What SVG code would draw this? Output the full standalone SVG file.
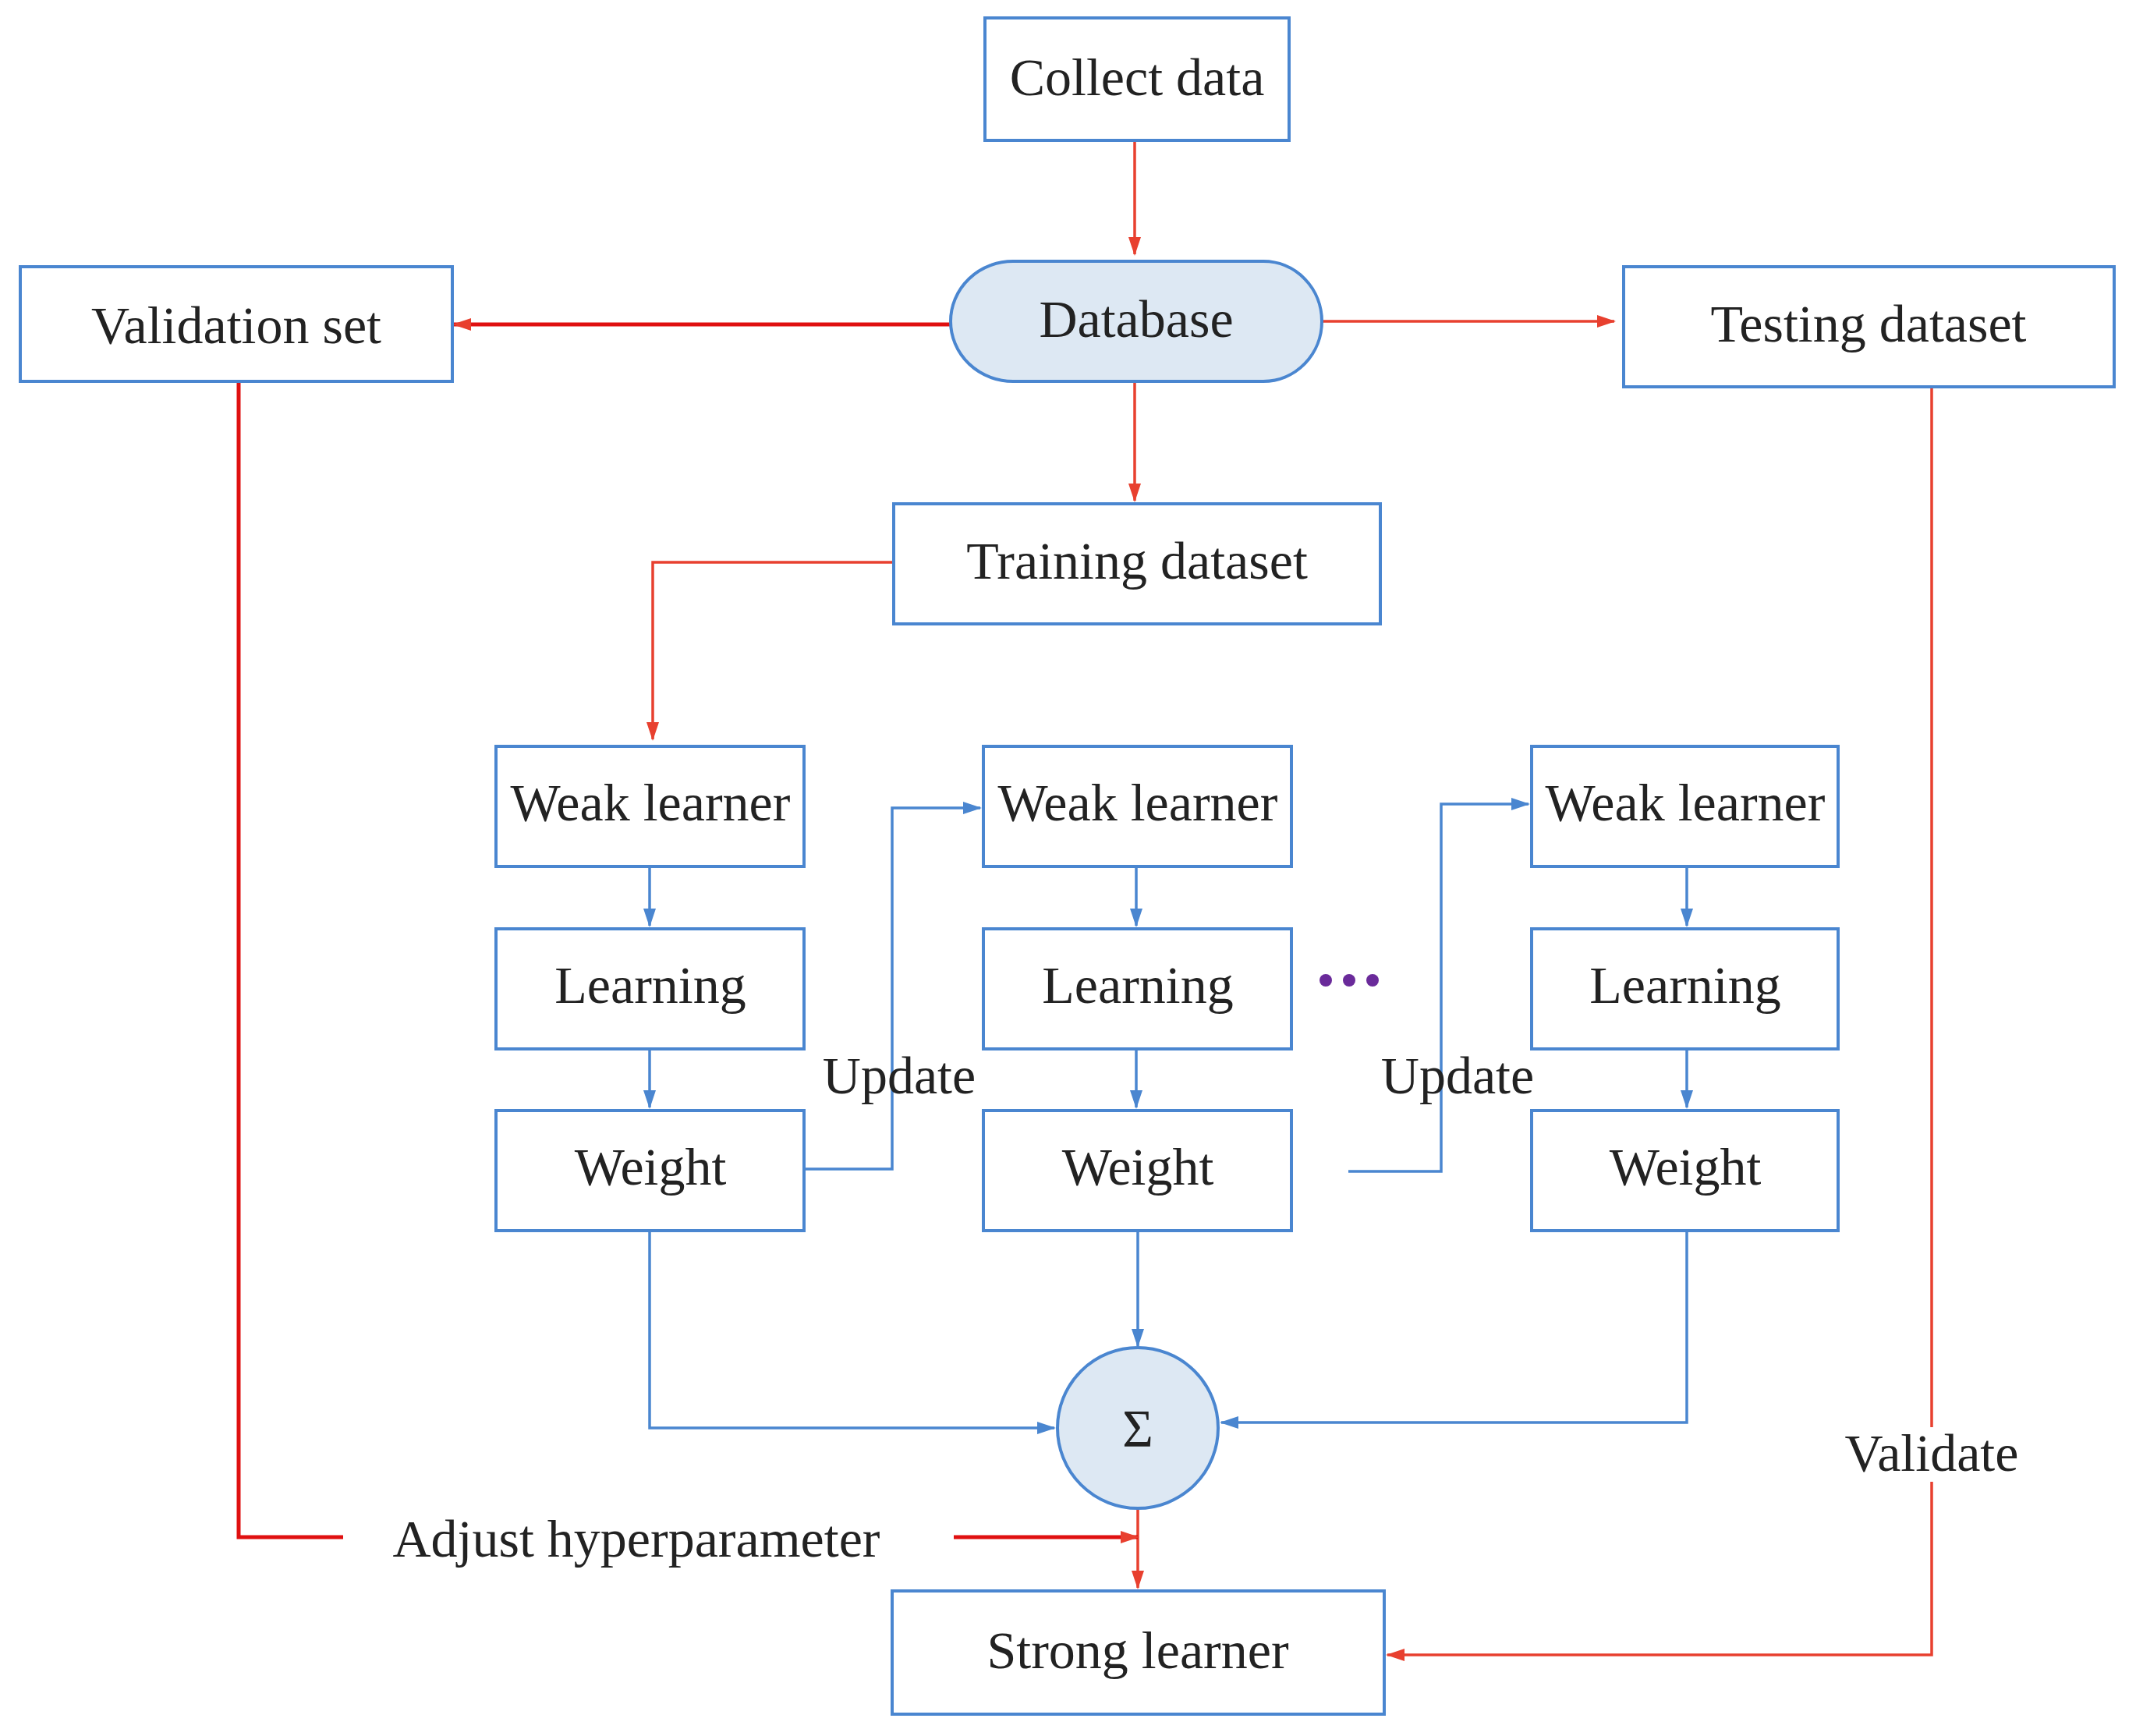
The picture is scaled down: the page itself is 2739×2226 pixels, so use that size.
<svg xmlns="http://www.w3.org/2000/svg" width="2739" height="2226" viewBox="0 0 2739 2226">
<style>
.b{fill:#fff;stroke:#4a86d0;stroke-width:4}
.f{fill:#dde8f3;stroke:#4a86d0;stroke-width:4}
text{font-family:"Liberation Serif",serif;font-size:68px;fill:#222;text-anchor:middle}
.r{fill:none;stroke:#e8402f;stroke-width:3.5}
.rt{fill:none;stroke:#e01010;stroke-width:5}
.u{fill:none;stroke:#4a86d0;stroke-width:3.5}
</style>
<defs>
<marker id="ar" viewBox="0 0 24 16" refX="22" refY="8" markerWidth="24" markerHeight="16" orient="auto" markerUnits="userSpaceOnUse"><path d="M0,0 L24,8 L0,16 z" fill="#e8402f"/></marker>
<marker id="ab" viewBox="0 0 24 16" refX="22" refY="8" markerWidth="24" markerHeight="16" orient="auto" markerUnits="userSpaceOnUse"><path d="M0,0 L24,8 L0,16 z" fill="#4a86d0"/></marker>
</defs>
<g id="connectors">
<path class="r" d="M1455,180V326" marker-end="url(#ar)"/>
<path class="rt" d="M1219,416H582" marker-end="url(#ar)"/>
<path class="r" d="M1695,412H2070" marker-end="url(#ar)"/>
<path class="r" d="M1455,489V642" marker-end="url(#ar)"/>
<path class="r" d="M1146,721H837V948" marker-end="url(#ar)"/>
<path class="u" d="M833,1111V1187" marker-end="url(#ab)"/>
<path class="u" d="M833,1345V1420" marker-end="url(#ab)"/>
<path class="u" d="M1457,1111V1187" marker-end="url(#ab)"/>
<path class="u" d="M1457,1345V1420" marker-end="url(#ab)"/>
<path class="u" d="M2163,1111V1187" marker-end="url(#ab)"/>
<path class="u" d="M2163,1345V1420" marker-end="url(#ab)"/>
<path class="u" d="M1031,1499H1144V1036H1257" marker-end="url(#ab)"/>
<path class="u" d="M1729,1502H1848V1031H1960" marker-end="url(#ab)"/>
<path class="u" d="M833,1578V1831H1352" marker-end="url(#ab)"/>
<path class="u" d="M1459,1578V1726" marker-end="url(#ab)"/>
<path class="u" d="M2163,1578V1824H1566" marker-end="url(#ab)"/>
<path class="r" d="M1459,1934V2036" marker-end="url(#ar)"/>
<path class="rt" d="M306,489V1971H440"/>
<path class="rt" d="M1223,1971H1459" marker-end="url(#ar)"/>
<path class="r" d="M2477,496V1830M2477,1900V2122H1779" marker-end="url(#ar)"/>
</g>
<g id="collect"><rect class="b" x="1263" y="23" width="390" height="157"/><text x="1458" y="122">Collect data</text></g>
<g id="database"><path class="f" d="M1300,335H1620A75,77 0 0 1 1695,412A75,77 0 0 1 1620,489H1300A80,77 0 0 1 1219,412A80,77 0 0 1 1300,335Z"/><text x="1457" y="432">Database</text></g>
<g id="validation"><rect class="b" x="26" y="342" width="554" height="147"/><text x="303" y="440">Validation set</text></g>
<g id="testing"><rect class="b" x="2082" y="342" width="629" height="154"/><text x="2396" y="438">Testing dataset</text></g>
<g id="training"><rect class="b" x="1146" y="646" width="624" height="154"/><text x="1458" y="742">Training dataset</text></g>
<g id="wl1"><rect class="b" x="636" y="957" width="395" height="154"/><text x="834" y="1052">Weak learner</text></g>
<g id="l1"><rect class="b" x="636" y="1191" width="395" height="154"/><text x="834" y="1286">Learning</text></g>
<g id="w1"><rect class="b" x="636" y="1424" width="395" height="154"/><text x="834" y="1519">Weight</text></g>
<g id="wl2"><rect class="b" x="1261" y="957" width="395" height="154"/><text x="1459" y="1052">Weak learner</text></g>
<g id="l2"><rect class="b" x="1261" y="1191" width="395" height="154"/><text x="1459" y="1286">Learning</text></g>
<g id="w2"><rect class="b" x="1261" y="1424" width="395" height="154"/><text x="1459" y="1519">Weight</text></g>
<g id="wl3"><rect class="b" x="1964" y="957" width="393" height="154"/><text x="2161" y="1052">Weak learner</text></g>
<g id="l3"><rect class="b" x="1964" y="1191" width="393" height="154"/><text x="2161" y="1286">Learning</text></g>
<g id="w3"><rect class="b" x="1964" y="1424" width="393" height="154"/><text x="2161" y="1519">Weight</text></g>
<g id="sum"><circle class="f" cx="1459" cy="1831" r="103"/><text x="1459" y="1854">Σ</text></g>
<g id="strong"><rect class="b" x="1144" y="2040" width="631" height="158"/><text x="1459" y="2139">Strong learner</text></g>
<g id="labels">
<text x="1153" y="1402">Update</text>
<text x="1869" y="1402">Update</text>
<text x="2477" y="1886">Validate</text>
<text x="816" y="1996">Adjust hyperparameter</text>
<g fill="#6a2a9a"><circle cx="1700" cy="1257" r="8"/><circle cx="1730" cy="1257" r="8"/><circle cx="1760" cy="1257" r="8"/></g>
</g>
</svg>
